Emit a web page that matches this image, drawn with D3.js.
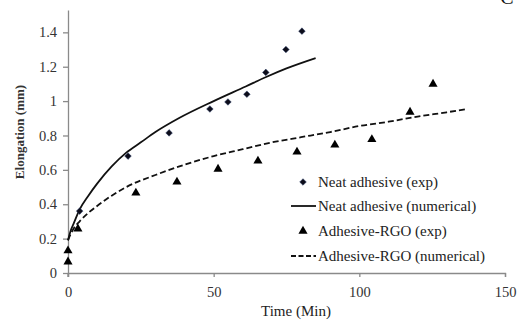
<!DOCTYPE html>
<html>
<head>
<meta charset="utf-8">
<script src="https://cdn.jsdelivr.net/npm/d3@7"></script>
<style>
  body { margin: 0; background: #fff; }
  text { font-family: "Liberation Serif", "DejaVu Serif", serif; }
</style>
</head>
<body>
<script>
// values
const neatExpT = [4, 20.6, 34.7, 48.7, 54.9, 61.4, 67.9, 74.8, 80.3];
const neatExpY = [0.36, 0.68, 0.815, 0.954, 0.995, 1.04, 1.167, 1.30, 1.407];

const neatNumT = [0, 1, 2, 4, 7, 10, 15, 20, 25, 30, 38, 50, 61, 68, 75, 85];
const neatNumY = [0.19, 0.25, 0.29, 0.37, 0.45, 0.52, 0.62, 0.70, 0.76, 0.82, 0.90, 1.0, 1.085, 1.14, 1.19, 1.25];

const rgoExpT = [0, 0, 3.4, 23.3, 37.4, 51.5, 65.2, 78.6, 91.6, 104.3, 117.4, 125.3];
const rgoExpY = [0.065, 0.13, 0.257, 0.466, 0.53, 0.605, 0.652, 0.704, 0.745, 0.777, 0.936, 1.099];

const rgoNumT = [0, 1, 2, 4, 7, 10, 15, 20, 30, 40, 50, 60, 70, 80, 90, 100, 110, 120, 130, 137];
const rgoNumY = [0.19, 0.23, 0.26, 0.30, 0.35, 0.39, 0.45, 0.50, 0.57, 0.63, 0.68, 0.72, 0.76, 0.79, 0.82, 0.855, 0.88, 0.91, 0.935, 0.954];

const xTicks = [0, 50, 100, 150];
const yTicks = [0, 0.2, 0.4, 0.6, 0.8, 1, 1.2, 1.4];
const legendLabels = ["Neat adhesive (exp)", "Neat adhesive (numerical)", "Adhesive-RGO (exp)", "Adhesive-RGO (numerical)"];

let width = 522, height = 320;
let svg = d3.select("body").append("svg")
    .attr("width", width)
    .attr("height", height);

let x = d3.scaleLinear().domain([0, 150]).range([68, 505]);
let y = d3.scaleLinear().domain([0, 1.53]).range([273, 10]);

let zip = (a, b) => a.map((v, i) => [v, b[i]]);

// axes
let axisColor = "#8a8a8a";
let xAxis = svg.append("g")
    .attr("transform", `translate(0,${y(0)})`)
    .call(d3.axisBottom(x).tickValues(xTicks).tickSize(4).tickSizeOuter(4).tickPadding(10).tickFormat(d3.format("d")));
let yAxis = svg.append("g")
    .attr("transform", `translate(${x(0)},0)`)
    .call(d3.axisLeft(y).tickValues(yTicks).tickSize(5).tickSizeOuter(0).tickPadding(6).tickFormat(d => d === 0 || d === 1 ? d3.format("d")(d) : d3.format(".1f")(d)));

for (let g of [xAxis, yAxis]) {
    g.selectAll("path, line").attr("stroke", axisColor).attr("stroke-width", 1.3);
    g.selectAll("text")
        .attr("fill", "#333")
        .style("font-family", "'Liberation Serif', serif")
        .style("font-size", "14.5px");
}
// y axis pokes a little below the x axis
svg.append("line")
    .attr("x1", x(0)).attr("x2", x(0))
    .attr("y1", y(0)).attr("y2", y(0) + 4)
    .attr("stroke", axisColor).attr("stroke-width", 1.3);

// axis titles
svg.append("text")
    .attr("x", 296).attr("y", 316)
    .attr("text-anchor", "middle")
    .style("font-size", "15px")
    .attr("fill", "#222")
    .text("Time (Min)");

svg.append("text")
    .attr("transform", "translate(24,132) rotate(-90)")
    .attr("text-anchor", "middle")
    .style("font-size", "13px")
    .style("font-weight", "bold")
    .attr("fill", "#333")
    .text("Elongation (mm)");

// lines
let line = d3.line().x(d => x(d[0])).y(d => y(d[1])).curve(d3.curveMonotoneX);

svg.append("path")
    .datum(zip(neatNumT, neatNumY))
    .attr("d", line)
    .attr("fill", "none")
    .attr("stroke", "#111")
    .attr("stroke-width", 1.8);

svg.append("path")
    .datum(zip(rgoNumT, rgoNumY))
    .attr("d", line)
    .attr("fill", "none")
    .attr("stroke", "#111")
    .attr("stroke-width", 1.8)
    .attr("stroke-dasharray", "6,3");

// markers
let diamond = d3.symbol().type(d3.symbolDiamond2).size(28);
let triangle = d3.symbol().type(d3.symbolTriangle).size(36);

svg.append("g").selectAll("path")
    .data(zip(neatExpT, neatExpY))
    .enter().append("path")
    .attr("d", diamond)
    .attr("transform", d => `translate(${x(d[0])},${y(d[1])})`)
    .attr("fill", "#0d0d1a")
    .attr("stroke", "#2a3f6a")
    .attr("stroke-width", 0.5);

svg.append("g").selectAll("path")
    .data(zip(rgoExpT, rgoExpY))
    .enter().append("path")
    .attr("d", triangle)
    .attr("transform", d => `translate(${x(d[0])},${y(d[1])})`)
    .attr("fill", "#000");

// legend
let legendY = [182, 206, 231, 256];
let leg = svg.append("g");
leg.append("path").attr("d", diamond).attr("transform", `translate(303,${legendY[0]})`).attr("fill", "#0d0d1a").attr("stroke", "#2a3f6a").attr("stroke-width", 0.5);
leg.append("line").attr("x1", 291).attr("x2", 316).attr("y1", legendY[1]).attr("y2", legendY[1]).attr("stroke", "#111").attr("stroke-width", 1.8);
leg.append("path").attr("d", triangle).attr("transform", `translate(303,${legendY[2]})`).attr("fill", "#000");
leg.append("line").attr("x1", 291).attr("x2", 316).attr("y1", legendY[3]).attr("y2", legendY[3]).attr("stroke", "#111").attr("stroke-width", 1.8).attr("stroke-dasharray", "5,2.5");

leg.selectAll("text.lbl")
    .data(legendLabels)
    .enter().append("text")
    .attr("class", "lbl")
    .attr("x", 318)
    .attr("y", (d, i) => legendY[i] + 5)
    .style("font-size", "15px")
    .attr("fill", "#222")
    .text(d => d);

// cut-off panel letter at the top right
svg.append("text")
    .attr("x", 507).attr("y", 4)
    .attr("text-anchor", "middle")
    .style("font-size", "20px")
    .attr("fill", "#111")
    .text("C");
</script>
</body>
</html>
